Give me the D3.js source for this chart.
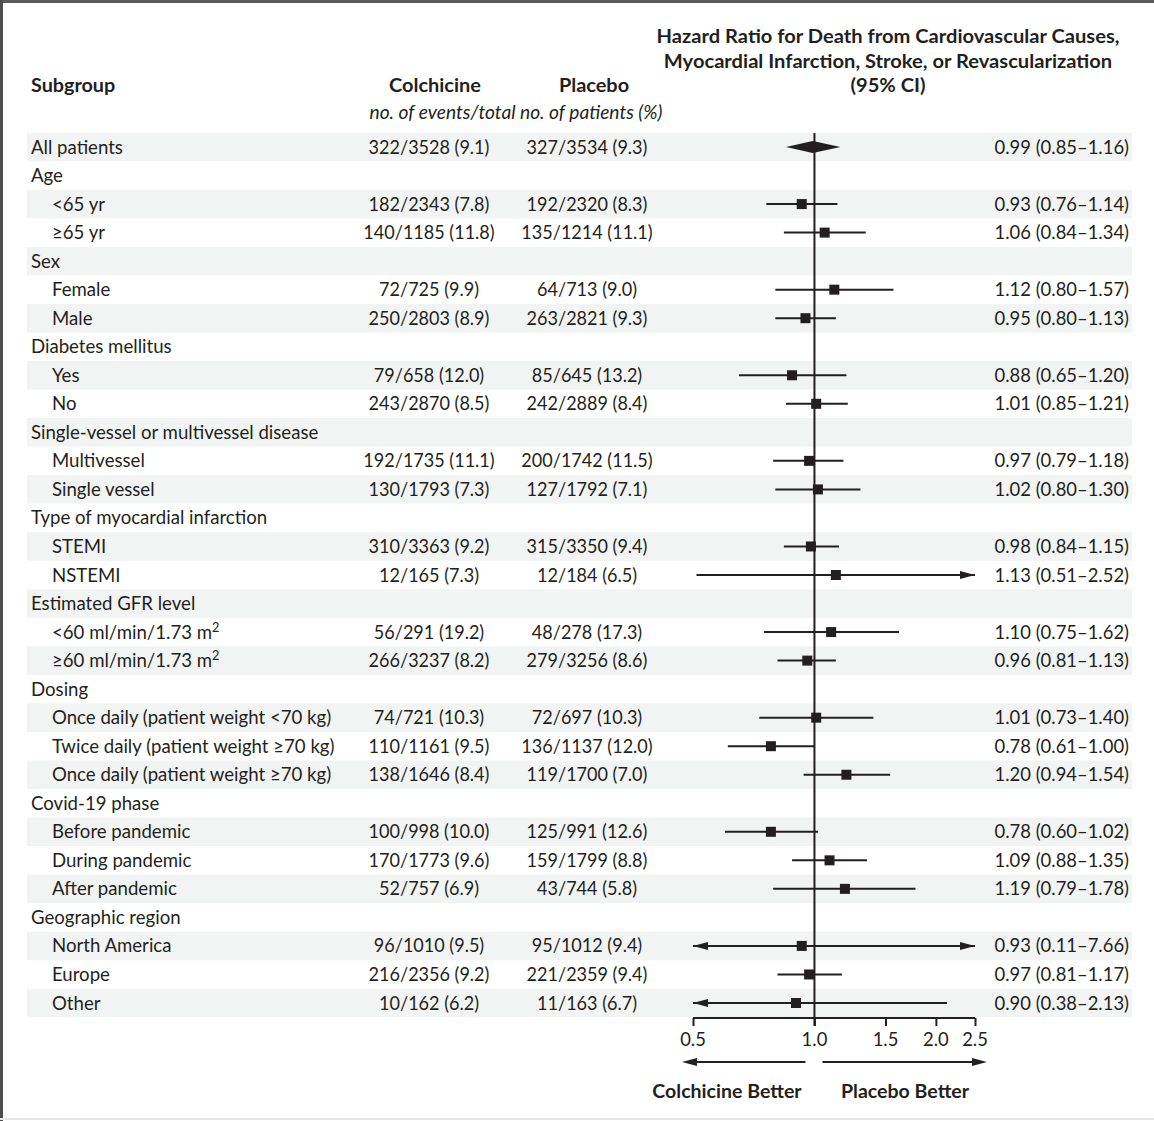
<!DOCTYPE html>
<html>
<head>
<meta charset="utf-8">
<script src="https://cdn.jsdelivr.net/npm/d3@7"></script>
<style>
  body { margin: 0; background: #fff; }
  svg text { font-family: Lato, "Noto Sans", sans-serif; fill: #231f20; }
</style>
</head>
<body>
<div id="chart"></div>
<script>
// subgroup rows; header rows carry null values
const subgroups = [
  "All patients", "Age", "<65 yr", "≥65 yr", "Sex", "Female", "Male",
  "Diabetes mellitus", "Yes", "No",
  "Single-vessel or multivessel disease", "Multivessel", "Single vessel",
  "Type of myocardial infarction", "STEMI", "NSTEMI",
  "Estimated GFR level", "<60 ml/min/1.73 m²", "≥60 ml/min/1.73 m²",
  "Dosing", "Once daily (patient weight <70 kg)", "Twice daily (patient weight ≥70 kg)", "Once daily (patient weight ≥70 kg)",
  "Covid-19 phase", "Before pandemic", "During pandemic", "After pandemic",
  "Geographic region", "North America", "Europe", "Other"
];
const colchicine = [
  "322/3528 (9.1)", null, "182/2343 (7.8)", "140/1185 (11.8)", null, "72/725 (9.9)", "250/2803 (8.9)",
  null, "79/658 (12.0)", "243/2870 (8.5)",
  null, "192/1735 (11.1)", "130/1793 (7.3)",
  null, "310/3363 (9.2)", "12/165 (7.3)",
  null, "56/291 (19.2)", "266/3237 (8.2)",
  null, "74/721 (10.3)", "110/1161 (9.5)", "138/1646 (8.4)",
  null, "100/998 (10.0)", "170/1773 (9.6)", "52/757 (6.9)",
  null, "96/1010 (9.5)", "216/2356 (9.2)", "10/162 (6.2)"
];
const placebo = [
  "327/3534 (9.3)", null, "192/2320 (8.3)", "135/1214 (11.1)", null, "64/713 (9.0)", "263/2821 (9.3)",
  null, "85/645 (13.2)", "242/2889 (8.4)",
  null, "200/1742 (11.5)", "127/1792 (7.1)",
  null, "315/3350 (9.4)", "12/184 (6.5)",
  null, "48/278 (17.3)", "279/3256 (8.6)",
  null, "72/697 (10.3)", "136/1137 (12.0)", "119/1700 (7.0)",
  null, "125/991 (12.6)", "159/1799 (8.8)", "43/744 (5.8)",
  null, "95/1012 (9.4)", "221/2359 (9.4)", "11/163 (6.7)"
];
const hr = [0.99, null, 0.93, 1.06, null, 1.12, 0.95, null, 0.88, 1.01, null, 0.97, 1.02,
  null, 0.98, 1.13, null, 1.10, 0.96, null, 1.01, 0.78, 1.20, null, 0.78, 1.09, 1.19,
  null, 0.93, 0.97, 0.90];
const lower = [0.85, null, 0.76, 0.84, null, 0.80, 0.80, null, 0.65, 0.85, null, 0.79, 0.80,
  null, 0.84, 0.51, null, 0.75, 0.81, null, 0.73, 0.61, 0.94, null, 0.60, 0.88, 0.79,
  null, 0.11, 0.81, 0.38];
const upper = [1.16, null, 1.14, 1.34, null, 1.57, 1.13, null, 1.20, 1.21, null, 1.18, 1.30,
  null, 1.15, 2.52, null, 1.62, 1.13, null, 1.40, 1.00, 1.54, null, 1.02, 1.35, 1.78,
  null, 7.66, 1.17, 2.13];
const ticks = [0.5, 1.0, 1.5, 2.0, 2.5];
const titleLines = ["Hazard Ratio for Death from Cardiovascular Causes,",
  "Myocardial Infarction, Stroke, or Revascularization", "(95% CI)"];

const width = 1154, height = 1121;
const fontSize = 19;
const ink = "#231f20";

const svg = d3.select("#chart").append("svg")
  .attr("width", width)
  .attr("height", height);

const fmt = d3.format(".2f");
const x = d3.scaleLog().domain([0.5, 2.5]).range([693, 975]);
const y = d3.scaleLinear().domain([0, subgroups.length - 1]).range([147, 1003]);
const step = y(1) - y(0);

// text with optional horizontal squeeze; "²" is drawn as a raised small 2
const label = (g, tx, ty, str, anchor, opts = {}) => {
  const t = g.append("text")
    .attr("transform", `translate(${tx},${ty}) scale(${opts.sx || 1},1)`)
    .attr("text-anchor", anchor || "start")
    .attr("font-size", opts.size || fontSize)
    .attr("font-weight", opts.bold ? 700 : null)
    .attr("font-style", opts.italic ? "italic" : null);
  const parts = str.split("²");
  parts.forEach((p, k) => {
    if (k > 0) t.append("tspan").attr("font-size", 13).attr("dy", -7).text("2");
    t.append("tspan").attr("dy", k > 0 ? 7 : null).text(p);
  });
  return t;
};

// frame
svg.append("rect").attr("x", 0).attr("y", 0).attr("width", width).attr("height", 3).attr("fill", "#5a5a5a");
svg.append("rect").attr("x", 0).attr("y", 0).attr("width", 3).attr("height", height).attr("fill", "#4d4d4d");
svg.append("rect").attr("x", 0).attr("y", height - 3).attr("width", width).attr("height", 2).attr("fill", "#e6e6e6");

// alternating bands
svg.append("g").selectAll("rect")
  .data(subgroups.filter((d, i) => i % 2 === 0))
  .join("rect")
    .attr("x", 27)
    .attr("width", 1132 - 27)
    .attr("y", (d, i) => y(i * 2) - step / 2)
    .attr("height", step)
    .attr("fill", "#f2f3f3");

// headers
const head = svg.append("g");
label(head, 31, 92, "Subgroup", "start", { bold: true, sx: 1.04 });
label(head, 435, 92, "Colchicine", "middle", { bold: true, sx: 1.05 });
label(head, 594, 92, "Placebo", "middle", { bold: true, sx: 1.05 });
label(head, 516, 119, "no. of events/total no. of patients (%)", "middle", { italic: true, sx: 1.01 });
titleLines.forEach((t, i) => label(head, 888, 43 + i * 24.5, t, "middle", { bold: true, sx: 1.06 }));

// table text
const rows = svg.append("g");
subgroups.forEach((s, i) => {
  const ty = y(i) + 6.5;
  const indented = i > 0 && hr[i] !== null;
  label(rows, indented ? 52 : 31, ty, s, "start", { sx: 0.98 });
  if (colchicine[i]) label(rows, 429, ty, colchicine[i], "middle", { sx: 0.95 });
  if (placebo[i]) label(rows, 587, ty, placebo[i], "middle", { sx: 0.95 });
  if (hr[i] !== null) label(rows, 1129, ty, `${fmt(hr[i])} (${fmt(lower[i])}–${fmt(upper[i])})`, "end", { sx: 0.97 });
});

// reference line at 1.0
svg.append("line")
  .attr("x1", x(1)).attr("x2", x(1))
  .attr("y1", y(0) - 14).attr("y2", 1026)
  .attr("stroke", ink).attr("stroke-width", 2);

// axis
const axisY = 1018;
const axis = svg.append("g").attr("transform", `translate(0,${axisY})`)
  .call(d3.axisBottom(x).tickValues(ticks).tickSize(8).tickSizeOuter(0));
axis.select(".domain").attr("stroke", ink).attr("stroke-width", 2).attr("d", `M${x(0.5)},0H${x(2.5)}`);
axis.selectAll(".tick line").attr("stroke", ink).attr("stroke-width", 2);
axis.selectAll(".tick text").remove();
ticks.forEach(t => label(svg, x(t), axisY + 28, d3.format(".1f")(t), "middle", { sx: 0.97 }));

// CI lines, arrows, squares
const marks = svg.append("g");
const arrowHead = (tip, cy, dir) => `M${tip},${cy}L${tip - dir * 15},${cy - 4}L${tip - dir * 15},${cy + 4}Z`;
const [dmin, dmax] = x.domain();
hr.forEach((v, i) => {
  if (v === null || i === 0) return;
  const cy = y(i);
  const x1 = x(Math.max(lower[i], dmin)), x2 = x(Math.min(upper[i], dmax));
  marks.append("line").attr("x1", x1).attr("x2", x2).attr("y1", cy).attr("y2", cy)
    .attr("stroke", ink).attr("stroke-width", 2);
  if (lower[i] < dmin) marks.append("path").attr("d", arrowHead(x1, cy, -1)).attr("fill", ink);
  if (upper[i] > dmax) marks.append("path").attr("d", arrowHead(x2, cy, 1)).attr("fill", ink);
  marks.append("rect").attr("x", x(v) - 5).attr("y", cy - 5).attr("width", 10).attr("height", 10).attr("fill", ink);
});

// overall diamond
marks.append("path")
  .attr("d", `M${x(lower[0])},${y(0)}L${x(hr[0])},${y(0) - 6}L${x(upper[0])},${y(0)}L${x(hr[0])},${y(0) + 6}Z`)
  .attr("fill", ink);

// direction arrows
const arrowY = 1062;
const dirs = svg.append("g");
dirs.append("line").attr("x1", x(0.5) - 11 + 14).attr("x2", x(1) - 9).attr("y1", arrowY).attr("y2", arrowY)
  .attr("stroke", ink).attr("stroke-width", 2);
dirs.append("path").attr("d", arrowHead(x(0.5) - 11, arrowY, -1)).attr("fill", ink);
dirs.append("line").attr("x1", x(1) + 8).attr("x2", x(2.5) + 12 - 14).attr("y1", arrowY).attr("y2", arrowY)
  .attr("stroke", ink).attr("stroke-width", 2);
dirs.append("path").attr("d", arrowHead(x(2.5) + 12, arrowY, 1)).attr("fill", ink);
label(dirs, 727, 1098, "Colchicine Better", "middle", { bold: true, sx: 1.03 });
label(dirs, 905, 1098, "Placebo Better", "middle", { bold: true, sx: 1.03 });
</script>
</body>
</html>
